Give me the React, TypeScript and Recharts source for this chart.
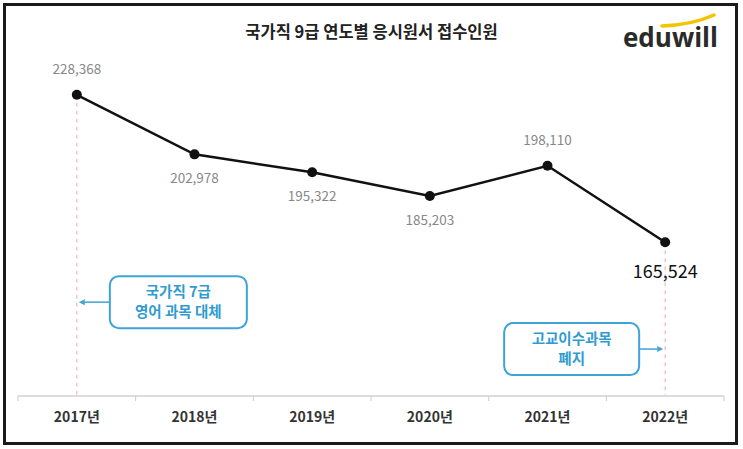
import { LineChart, Line, XAxis, YAxis, ReferenceLine, ReferenceDot, LabelList } from 'recharts';

const years = ['2017년', '2018년', '2019년', '2020년', '2021년', '2022년'];
const applicants = [228368, 202978, 195322, 185203, 198110, 165524];
const labelAbove = [true, false, false, false, true, false];

const notes = [
    { year: '2017년', value: 140000, lines: ['국가직 7급', '영어 과목 대체'], side: 'right' },
    { year: '2022년', value: 120000, lines: ['고교이수과목', '폐지'], side: 'left' },
];
const markedYears = ['2017년', '2022년'];

const data = years.map((year, i) => ({ year, count: applicants[i] }));

const W = 743;
const H = 449;
const M = { top: 44, right: 19, left: 18, bottom: 0 };
const band = (W - M.left - M.right) / years.length;
const KR = '"Noto Sans CJK KR", "Noto Sans", sans-serif';

function YearTick(props: any) {
    const { x, y, payload, index } = props;
    return (
        <g>
            <line x1={x - band / 2} y1={y - 8} x2={x - band / 2} y2={y - 3} stroke="#ccc" />
            {index === years.length - 1 && (
                <line x1={x + band / 2} y1={y - 8} x2={x + band / 2} y2={y - 3} stroke="#ccc" />
            )}
            <text x={x} y={y + 18} textAnchor="middle" fill="#333" fontSize={14} fontWeight={700} fontFamily={KR}>
                {payload.value}
            </text>
        </g>
    );
}

function ValueLabel(props: any) {
    const { x, y, value, index } = props;
    const last = index === applicants.length - 1;
    const dy = labelAbove[index] ? -21 : last ? 36 : 29;
    return (
        <text
            x={x}
            y={y + dy}
            textAnchor="middle"
            fill={last ? '#111' : '#888'}
            fontSize={last ? 18 : 13.5}
            fontFamily={KR}
        >
            {Number(value).toLocaleString('en-US')}
        </text>
    );
}

function NoteShape(note: (typeof notes)[number]) {
    return (props: any) => {
        const { cx, cy } = props;
        const right = note.side === 'right';
        const bw = right ? 137 : 135;
        const bx = right ? cx + 33 : cx - 26 - bw;
        const edge = right ? bx : bx + bw;
        const tip = right ? cx + 2 : cx - 2;
        const head = right ? 6 : -6;
        return (
            <g>
                <line x1={edge} y1={cy} x2={tip + head} y2={cy} stroke="#3ea3d6" strokeWidth={1.5} />
                <polygon points={`${tip},${cy} ${tip + head},${cy - 3} ${tip + head},${cy + 3}`} fill="#3ea3d6" />
                <rect x={bx} y={cy - 26} width={bw} height={52} rx={9} fill="#fff" stroke="#3ea3d6" strokeWidth={2} />
                {note.lines.map((t, i) => (
                    <text
                        key={t}
                        x={bx + bw / 2}
                        y={cy - 5 + i * 20}
                        textAnchor="middle"
                        fill="#2f9bd0"
                        fontSize={14.5}
                        fontWeight={600}
                        fontFamily={KR}
                    >
                        {t}
                    </text>
                ))}
            </g>
        );
    };
}

export default function App() {
    return (
        <div style={{ position: 'relative', width: W, height: H, background: '#fff', fontFamily: KR }}>
            <style>{'body{margin:0}'}</style>
            <LineChart width={W} height={H} data={data} margin={M}>
                <XAxis
                    dataKey="year"
                    height={53}
                    padding={{ left: band / 2, right: band / 2 }}
                    axisLine={{ stroke: '#ddd', strokeWidth: 2 }}
                    tickLine={false}
                    tick={<YearTick />}
                    interval={0}
                />
                <YAxis hide domain={[100000, 250000]} />
                {markedYears.map((yr) => (
                    <ReferenceLine
                        key={yr}
                        segment={[
                            { x: yr, y: applicants[years.indexOf(yr)] },
                            { x: yr, y: 100000 },
                        ]}
                        stroke="#f4a7b3"
                        strokeDasharray="4 4"
                    />
                ))}
                {notes.map((n) => (
                    <ReferenceDot key={n.year} x={n.year} y={n.value} shape={NoteShape(n)} />
                ))}
                <Line
                    dataKey="count"
                    stroke="#111"
                    strokeWidth={2.5}
                    dot={{ r: 5, fill: '#111', stroke: '#111', strokeWidth: 0 }}
                    isAnimationActive={false}
                >
                    <LabelList dataKey="count" content={<ValueLabel />} />
                </Line>
            </LineChart>
            <div
                style={{
                    position: 'absolute',
                    left: 0,
                    top: 19,
                    width: W,
                    textAlign: 'center',
                    fontSize: 16.5,
                    fontWeight: 700,
                    color: '#222',
                }}
            >
                국가직 9급 연도별 응시원서 접수인원
            </div>
            <svg style={{ position: 'absolute', left: 610, top: 8 }} width={115} height={50}>
                <path d="M52 18 Q82 17 104 7" stroke="#f5c400" strokeWidth={3.5} fill="none" strokeLinecap="round" />
                <text x={13} y={39} fontSize={26} fontWeight={700} fill="#2a2a2a" fontFamily="'Open Sans', sans-serif">
                    eduwill
                </text>
            </svg>
            <div
                style={{
                    position: 'absolute',
                    left: 3,
                    top: 3,
                    width: 735,
                    height: 442,
                    border: '3px solid #1a1a1a',
                    boxSizing: 'border-box',
                    pointerEvents: 'none',
                }}
            />
        </div>
    );
}
